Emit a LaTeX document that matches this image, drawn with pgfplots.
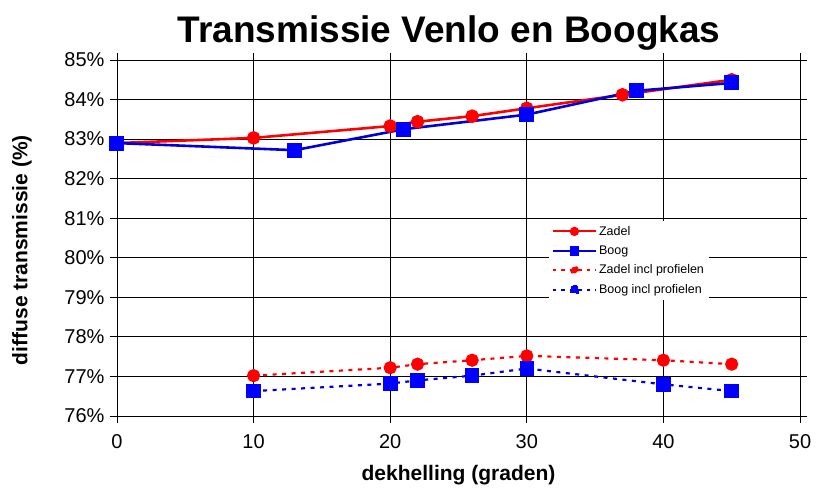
\documentclass[border=0pt]{standalone}
\usepackage{fontspec}
\setmainfont{Liberation Sans}
\usepackage{pgfplots}
\pgfplotsset{compat=1.18}
\definecolor{zred}{RGB}{255,0,0}
\definecolor{bblue}{RGB}{0,0,255}
\definecolor{bline}{RGB}{0,0,215}
\begin{document}
\begin{tikzpicture}[x=1pt,y=1pt]
\useasboundingbox (0,0) rectangle (825,495);
\begin{axis}[
  at={(117pt,79pt)}, anchor=south west, scale only axis,
  width=683pt, height=356pt,
  xmin=0, xmax=50, ymin=76, ymax=85,
  xtick={0,10,...,50}, ytick={76,77,...,85},
  grid=major, major grid style={black,line width=0.8pt},
  axis line style={black,line width=0.8pt},
  tick align=outside, major tick length=7pt,
  tick style={black,line width=0.8pt},
  yticklabel={\pgfmathprintnumber{\tick}\%},
  /pgf/number format/assume math mode=true,
  ticklabel style={font=\fontsize{20}{24}\selectfont},
  xticklabel style={yshift=-8pt},
  yticklabel style={xshift=-2pt},
  xlabel={dekhelling (graden)},
  ylabel={diffuse transmissie (\%)},
  label style={font=\fontsize{21}{25}\selectfont\bfseries},
  xlabel style={at={(axis description cs:0.5,-0.165)}, anchor=center},
  ylabel style={at={(axis description cs:-0.139,0.466)}, anchor=center},
  clip=false,
  legend style={at={(0.632,0.548)}, anchor=north west, draw=none, fill=white,
    font=\fontsize{12.5}{15}\selectfont, inner sep=3pt, row sep=5pt},
  legend cell align=left,
]
\addplot[zred, line width=2.6pt, mark=*, mark size=5.5pt, mark options={solid,fill=zred,draw=zred},
  legend image code/.code={\draw[zred,line width=2.2pt](0pt,0pt)--(43pt,0pt);\fill[zred](21.5pt,0pt) circle (3.3pt);}]
  coordinates {(0,82.9)(10,83.03)(20,83.33)(22,83.44)(26,83.58)(30,83.78)(37,84.12)(45,84.5)};
\addlegendentry{Zadel}
\addplot[bline, line width=2.6pt, mark=square*, mark size=6.2pt, mark options={solid,fill=bblue,draw=bblue},
  legend image code/.code={\draw[bline,line width=2.2pt](0pt,0pt)--(43pt,0pt);\fill[bblue](18pt,-3.5pt) rectangle (25pt,3.5pt);}]
  coordinates {(0,82.9)(13,82.72)(21,83.25)(30,83.62)(38,84.22)(45,84.42)};
\addlegendentry{Boog}
\addplot[zred, line width=2.2pt, dash pattern=on 4pt off 5.5pt, mark=*, mark size=5.5pt, mark options={solid,fill=zred,draw=zred},
  legend image code/.code={\draw[zred,line width=2pt,dash pattern=on 3.5pt off 5pt](0pt,0pt)--(43pt,0pt);\fill[zred](21.5pt,0pt) circle (3.3pt);}]
  coordinates {(10,77.02)(20,77.22)(22,77.31)(26,77.41)(30,77.52)(40,77.41)(45,77.31)};
\addlegendentry{Zadel incl profielen}
\addplot[bline, line width=2.2pt, dash pattern=on 4pt off 5.5pt, mark=square*, mark size=6.2pt, mark options={solid,fill=bblue,draw=bblue},
  legend image code/.code={\draw[bline,line width=2pt,dash pattern=on 3.5pt off 5pt](0pt,0pt)--(43pt,0pt);\fill[bblue](18pt,-3.5pt) rectangle (25pt,3.5pt);}]
  coordinates {(10,76.63)(20,76.82)(22,76.9)(26,77.02)(30,77.2)(40,76.8)(45,76.63)};
\addlegendentry{Boog incl profielen}
\end{axis}
\node[font=\fontsize{37}{42}\selectfont\bfseries] at (449,462) {Transmissie Venlo en Boogkas};
\end{tikzpicture}
\end{document}
